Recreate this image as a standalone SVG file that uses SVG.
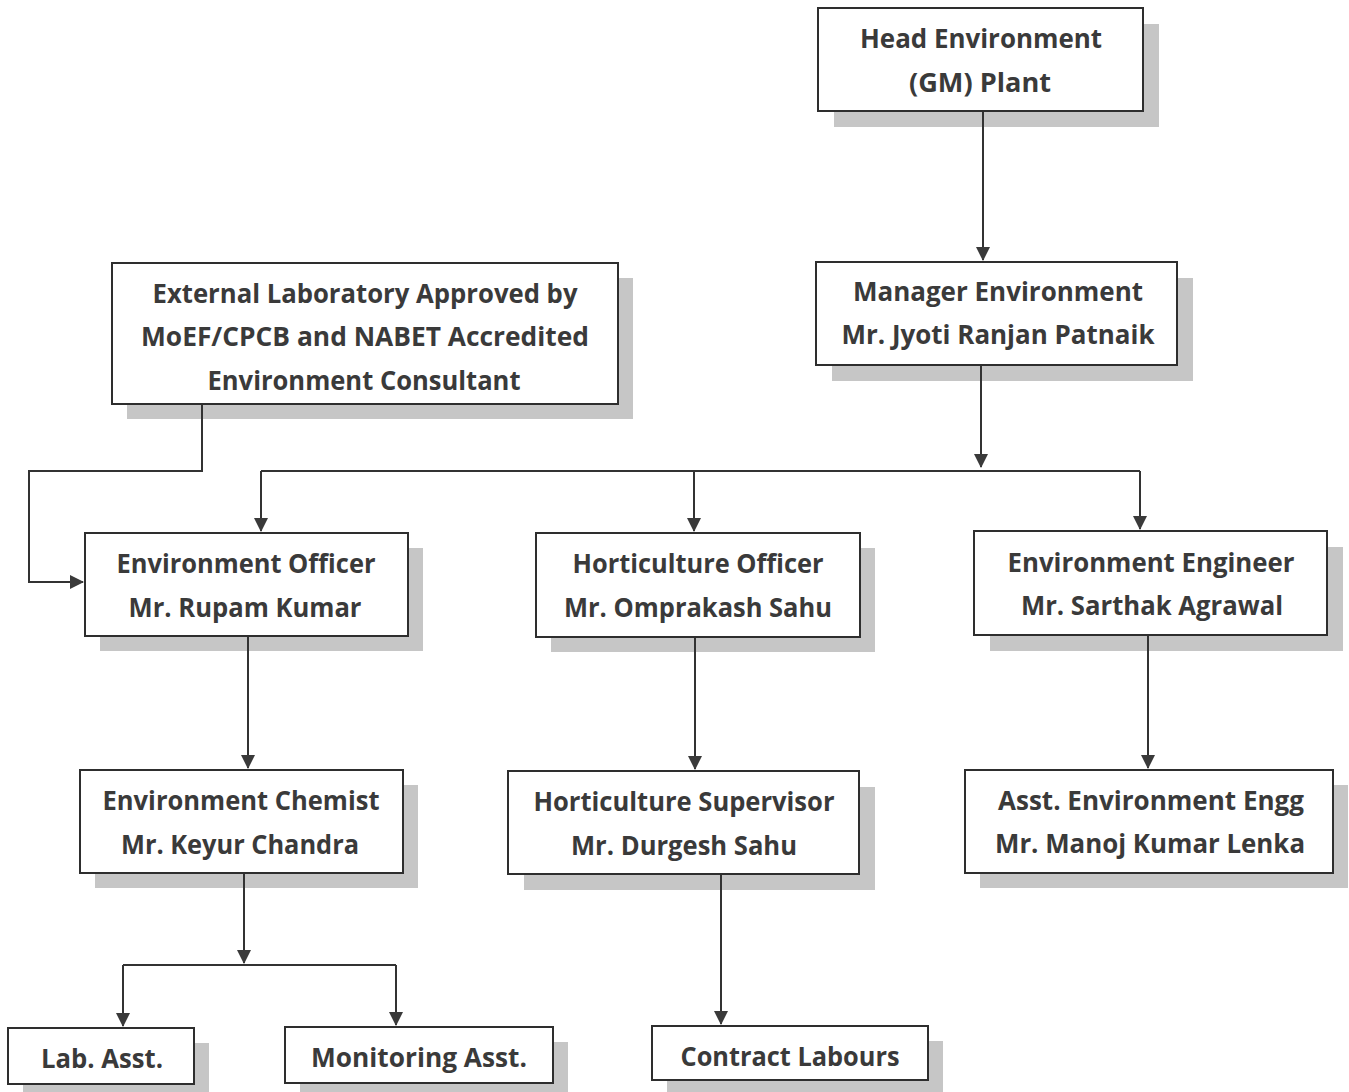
<svg xmlns="http://www.w3.org/2000/svg" width="1349" height="1092" viewBox="0 0 1349 1092">
<defs>
<marker id="ah" markerWidth="14" markerHeight="14" refX="13" refY="7" orient="auto" markerUnits="userSpaceOnUse">
<path d="M0,0 L14,7 L0,14 Z" fill="#3a3a3a"/>
</marker>
</defs>
<style>
.sh{fill:#c6c6c6}
.bx{fill:#fff;stroke:#2e2e2e;stroke-width:2}
.t{font-family:"Open Sans","Noto Sans","Liberation Sans",sans-serif;font-weight:700;font-size:27px;fill:#3a3a3a;text-anchor:middle}
.c{fill:none;stroke:#333;stroke-width:2}
</style>
<rect width="1349" height="1092" fill="#fff"/>
<g id="head">
<rect class="sh" x="834" y="24" width="325" height="103"/>
<rect class="bx" x="818" y="8" width="325" height="103"/>
<text class="t" x="981" y="48" textLength="242" lengthAdjust="spacingAndGlyphs">Head Environment</text>
<text class="t" x="980" y="92" textLength="142" lengthAdjust="spacingAndGlyphs">(GM) Plant</text>
</g>
<g id="manager">
<rect class="sh" x="832" y="278" width="361" height="103"/>
<rect class="bx" x="816" y="262" width="361" height="103"/>
<text class="t" x="998" y="301" textLength="290" lengthAdjust="spacingAndGlyphs">Manager Environment</text>
<text class="t" x="998" y="344" textLength="313" lengthAdjust="spacingAndGlyphs">Mr. Jyoti Ranjan Patnaik</text>
</g>
<g id="external">
<rect class="sh" x="127" y="278" width="506" height="141"/>
<rect class="bx" x="112" y="263" width="506" height="141"/>
<text class="t" x="365" y="303" textLength="425" lengthAdjust="spacingAndGlyphs">External Laboratory Approved by</text>
<text class="t" x="365" y="346" textLength="448" lengthAdjust="spacingAndGlyphs">MoEF/CPCB and NABET Accredited</text>
<text class="t" x="364" y="390" textLength="313" lengthAdjust="spacingAndGlyphs">Environment Consultant</text>
</g>
<g id="env-officer">
<rect class="sh" x="100" y="548" width="323" height="103"/>
<rect class="bx" x="85" y="533" width="323" height="103"/>
<text class="t" x="246" y="573" textLength="259" lengthAdjust="spacingAndGlyphs">Environment Officer</text>
<text class="t" x="245" y="617" textLength="233" lengthAdjust="spacingAndGlyphs">Mr. Rupam Kumar</text>
</g>
<g id="hort-officer">
<rect class="sh" x="551" y="548" width="324" height="104"/>
<rect class="bx" x="536" y="533" width="324" height="104"/>
<text class="t" x="698" y="573" textLength="251" lengthAdjust="spacingAndGlyphs">Horticulture Officer</text>
<text class="t" x="698" y="617" textLength="268" lengthAdjust="spacingAndGlyphs">Mr. Omprakash Sahu</text>
</g>
<g id="env-engineer">
<rect class="sh" x="990" y="547" width="353" height="104"/>
<rect class="bx" x="974" y="531" width="353" height="104"/>
<text class="t" x="1151" y="572" textLength="287" lengthAdjust="spacingAndGlyphs">Environment Engineer</text>
<text class="t" x="1152" y="615" textLength="262" lengthAdjust="spacingAndGlyphs">Mr. Sarthak Agrawal</text>
</g>
<g id="env-chemist">
<rect class="sh" x="95" y="785" width="323" height="103"/>
<rect class="bx" x="80" y="770" width="323" height="103"/>
<text class="t" x="241" y="810" textLength="277" lengthAdjust="spacingAndGlyphs">Environment Chemist</text>
<text class="t" x="240" y="854" textLength="238" lengthAdjust="spacingAndGlyphs">Mr. Keyur Chandra</text>
</g>
<g id="hort-supervisor">
<rect class="sh" x="524" y="787" width="351" height="103"/>
<rect class="bx" x="508" y="771" width="351" height="103"/>
<text class="t" x="684" y="811" textLength="301" lengthAdjust="spacingAndGlyphs">Horticulture Supervisor</text>
<text class="t" x="684" y="855" textLength="226" lengthAdjust="spacingAndGlyphs">Mr. Durgesh Sahu</text>
</g>
<g id="asst-env-engg">
<rect class="sh" x="980" y="785" width="368" height="103"/>
<rect class="bx" x="965" y="770" width="368" height="103"/>
<text class="t" x="1151" y="810" textLength="306" lengthAdjust="spacingAndGlyphs">Asst. Environment Engg</text>
<text class="t" x="1150" y="853" textLength="310" lengthAdjust="spacingAndGlyphs">Mr. Manoj Kumar Lenka</text>
</g>
<g id="lab-asst">
<rect class="sh" x="23" y="1043" width="186" height="56"/>
<rect class="bx" x="8" y="1028" width="186" height="56"/>
<text class="t" x="102" y="1068" textLength="122" lengthAdjust="spacingAndGlyphs">Lab. Asst.</text>
</g>
<g id="monitoring-asst">
<rect class="sh" x="300" y="1042" width="268" height="56"/>
<rect class="bx" x="285" y="1027" width="268" height="56"/>
<text class="t" x="419" y="1067" textLength="216" lengthAdjust="spacingAndGlyphs">Monitoring Asst.</text>
</g>
<g id="contract-labours">
<rect class="sh" x="667" y="1041" width="276" height="54"/>
<rect class="bx" x="652" y="1026" width="276" height="54"/>
<text class="t" x="790" y="1066" textLength="219" lengthAdjust="spacingAndGlyphs">Contract Labours</text>
</g>
<g id="connectors">
<path class="c" d="M983,112 V260" marker-end="url(#ah)"/>
<path class="c" d="M981,366 V467" marker-end="url(#ah)"/>
<path class="c" d="M261,471 H1140"/>
<path class="c" d="M261,471 V531" marker-end="url(#ah)"/>
<path class="c" d="M694,471 V531" marker-end="url(#ah)"/>
<path class="c" d="M1140,471 V529" marker-end="url(#ah)"/>
<path class="c" d="M202,405 V471 H29 V582 H83" marker-end="url(#ah)"/>
<path class="c" d="M248,637 V768" marker-end="url(#ah)"/>
<path class="c" d="M695,638 V769" marker-end="url(#ah)"/>
<path class="c" d="M1148,636 V768" marker-end="url(#ah)"/>
<path class="c" d="M244,874 V963" marker-end="url(#ah)"/>
<path class="c" d="M123,965 H396"/>
<path class="c" d="M123,965 V1026" marker-end="url(#ah)"/>
<path class="c" d="M396,965 V1025" marker-end="url(#ah)"/>
<path class="c" d="M721,875 V1024" marker-end="url(#ah)"/>
</g>
</svg>
